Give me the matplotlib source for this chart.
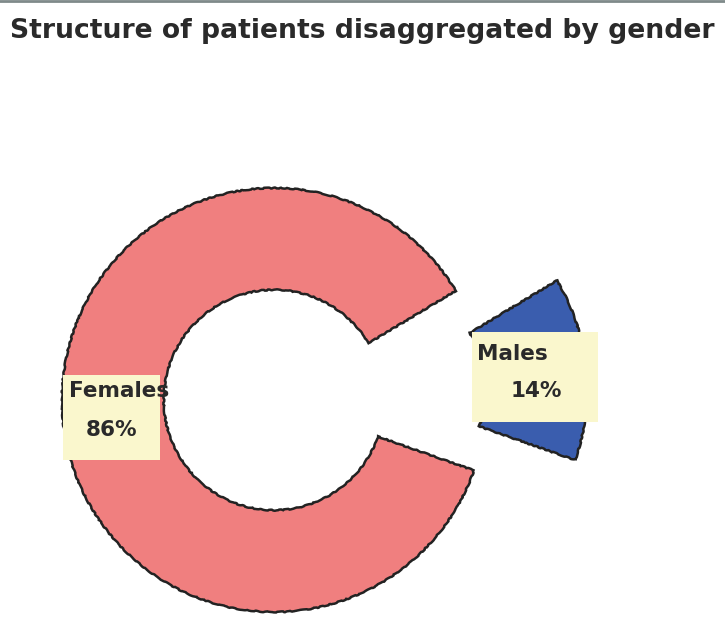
import matplotlib.pyplot as plt
from matplotlib.patches import Rectangle
from matplotlib.lines import Line2D

plt.rcParams['font.family'] = ['DejaVu Sans']

# data
categories = ["Females", "Males"]
shares = [86, 14]
colors = ["#F07F7F", "#3A5DAE"]
explode = [0, 0.48]

W, H = 725, 620
cx, cy, R = 274, 400, 212   # donut centre / radius in pixels (from top)

def to_data(px, py):
    return (px - cx) / R, (cy - py) / R

fig = plt.figure(figsize=(W / 100, H / 100), dpi=100)
ax = fig.add_axes([0, 0, 1, 1])

wedges, _ = ax.pie(shares, colors=colors, explode=explode, startangle=31,
                   counterclock=True, radius=1,
                   wedgeprops=dict(width=0.48, edgecolor="#222222", linewidth=1.8))
for w in wedges:
    # slightly rough outline like the reference
    w.set_sketch_params(0.5, 14, 6)

x0, y1 = to_data(0, H)
x1, y0 = to_data(W, 0)
ax.set_xlim(x0, x1)
ax.set_ylim(y1, y0)
ax.set_aspect('auto')
ax.axis('off')

# label boxes: (box left, top, right, bottom), name position, pct position (pixels)
labels = [
    ((63, 375, 160, 460), (69, 391), (111, 430)),
    ((472, 332, 598, 422), (477, 354), (536, 391)),
]
for cat, val, (box, npos, ppos) in zip(categories, shares, labels):
    bx0, by0 = to_data(box[0], box[3])
    bx1, by1 = to_data(box[2], box[1])
    ax.add_patch(Rectangle((bx0, by0), bx1 - bx0, by1 - by0,
                           facecolor="#FAF7CD", edgecolor="none", zorder=3))
    tx, ty = to_data(*npos)
    ax.text(tx, ty, cat, ha='left', va='center', fontsize=15.5,
            fontweight='bold', color="#2a2a2a", zorder=4)
    tx, ty = to_data(*ppos)
    ax.text(tx, ty, f"{val}%", ha='center', va='center', fontsize=15.5,
            fontweight='bold', color="#2a2a2a", zorder=4)

fig.text(0.5, 1 - 31 / H, "Structure of patients disaggregated by gender",
         ha='center', va='center', fontsize=19.2, fontweight='bold', color="#2a2a2a")
fig.add_artist(Line2D([0, 1], [1 - 1 / H, 1 - 1 / H], transform=fig.transFigure,
                      color="#7f8a8a", linewidth=2))

fig.savefig("out.png", dpi=100)
